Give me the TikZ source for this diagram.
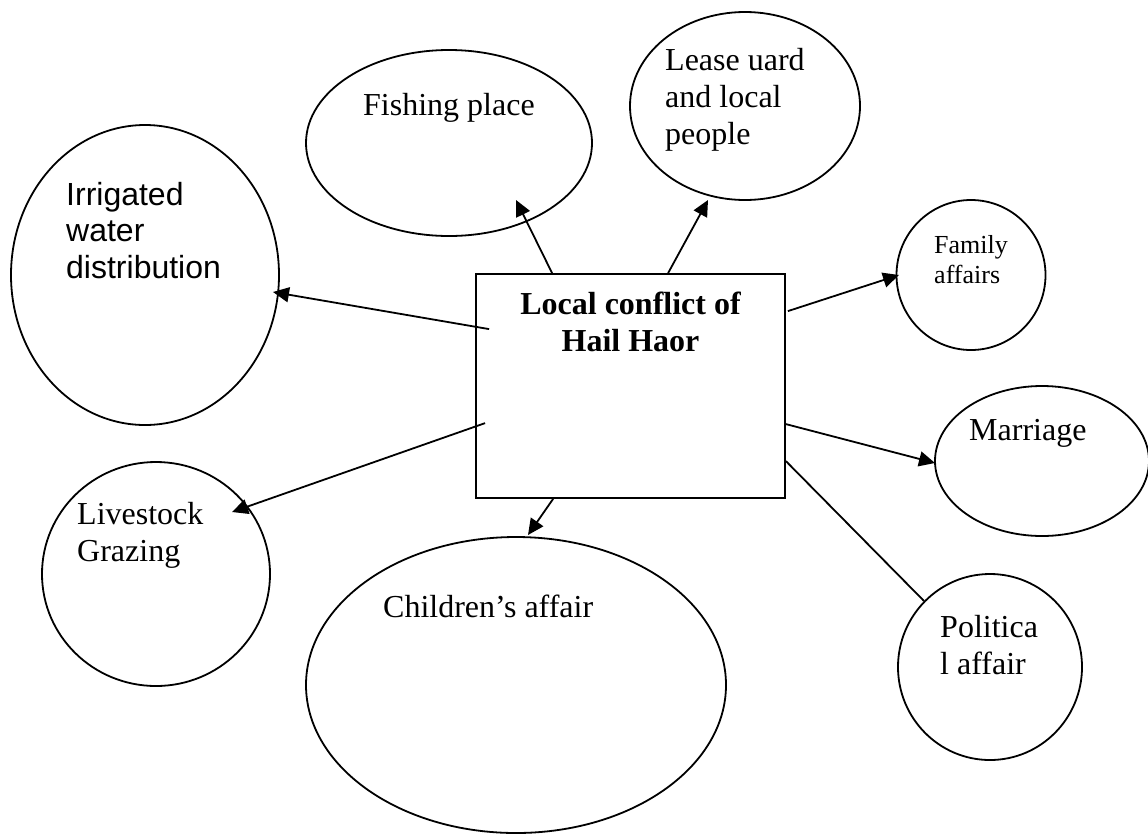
\documentclass[tikz,border=0pt]{standalone}
\usepackage{fontspec}
\setmainfont{Liberation Serif}
\newfontfamily\arialfont{Liberation Sans}
\usetikzlibrary{shapes.geometric,arrows.meta}

\begin{document}
\begin{tikzpicture}[x=1pt,y=-1pt,
  bubble/.style={draw,ellipse,line width=1.8pt,inner sep=0pt},
  hub/.style={draw,rectangle,line width=1.8pt,inner sep=0pt},
  caption/.style={inner sep=0pt,anchor=base west,
    font=\fontsize{32}{37}\selectfont},
  smallcaption/.style={inner sep=0pt,anchor=base west,
    font=\fontsize{26}{30}\selectfont},
  link/.style={line width=1.8pt},
  arrowlink/.style={link,-{Triangle[length=16pt,width=15pt]}}]

\useasboundingbox (0,0) rectangle (1148,836);

% central box
\node[hub,minimum width=309pt,minimum height=224pt] (box) at (630.5,386) {};
\node[inner sep=0pt,anchor=base,font=\fontsize{32}{37}\selectfont\bfseries]
  (boxtext) at ([shift={(0,41)}]box.north)
  {\vtop{\halign{\hfil#\hfil\cr Local conflict of\cr Hail Haor\cr}}};

% surrounding ellipses
\node[bubble,minimum width=286pt,minimum height=186pt] (fish) at (449,143) {};
\node[bubble,minimum width=230pt,minimum height=188pt] (lease) at (745,106) {};
\node[bubble,minimum width=268pt,minimum height=300pt] (irr) at (145,275) {};
\node[bubble,minimum width=149pt,minimum height=150pt] (fam) at (971,275) {};
\node[bubble,minimum width=214pt,minimum height=150pt] (mar) at (1042,461) {};
\node[bubble,minimum width=184pt,minimum height=186pt] (pol) at (990,667) {};
\node[bubble,minimum width=228pt,minimum height=224pt] (live) at (156,574) {};
\node[bubble,minimum width=420pt,minimum height=296pt] (child) at (516,685) {};

% texts inside the ellipses
\node[caption] (fishtext) at ([shift={(-86,-28)}]fish.center) {Fishing place};
\node[caption] (leasetext) at ([shift={(-80,-36)}]lease.center)
  {\vtop{\hbox{Lease uard}\hbox{and local}\hbox{people}}};
\node[caption,font=\fontsize{32}{36.5}\selectfont\arialfont] (irrtext)
  at ([shift={(-79,-70)}]irr.center)
  {\vtop{\hbox{Irrigated}\hbox{water}\hbox{distribution}}};
\node[smallcaption] (famtext) at ([shift={(-37,-22)}]fam.center)
  {\vtop{\hbox{Family}\hbox{affairs}}};
\node[caption] (martext) at ([shift={(-73,-21)}]mar.center) {Marriage};
\node[caption] (poltext) at ([shift={(-50,-30)}]pol.center)
  {\vtop{\hbox{Politica}\hbox{l affair}}};
\node[caption] (livetext) at ([shift={(-79,-50)}]live.center)
  {\vtop{\hbox{Livestock}\hbox{Grazing}}};
\node[caption] (childtext) at ([shift={(-133,-68)}]child.center)
  {Children’s affair};

% arrow tips
\coordinate (fishtip)  at ([shift={(67,57)}]fish.center);
\coordinate (leasetip) at ([shift={(-37,94)}]lease.center);
\coordinate (famtip)   at ([shift={(-72,0)}]fam.center);
\coordinate (irrtip)   at ([shift={(128,17)}]irr.center);
\coordinate (livetip)  at ([shift={(76,-62)}]live.center);
\coordinate (childtip) at ([shift={(12,-150)}]child.center);
\coordinate (martip)   at ([shift={(-107,2)}]mar.center);

% connectors from the box
\draw[arrowlink] ([shift={(77,0)}]box.north west) -- (fishtip);
\draw[arrowlink] ([shift={(193,0)}]box.north west) -- (leasetip);
\draw[arrowlink] ([shift={(2,38)}]box.north east) -- (famtip);
\draw[arrowlink] ([shift={(14,56)}]box.north west) -- (irrtip);
\draw[arrowlink] ([shift={(10,150)}]box.north west) -- (livetip);
\draw[arrowlink] ([shift={(78,0)}]box.south west) -- (childtip);
\draw[arrowlink] ([shift={(0,151)}]box.north east) -- (martip);
\draw[link] ([shift={(0,188)}]box.north east) -- (pol.135);

\end{tikzpicture}
\end{document}
